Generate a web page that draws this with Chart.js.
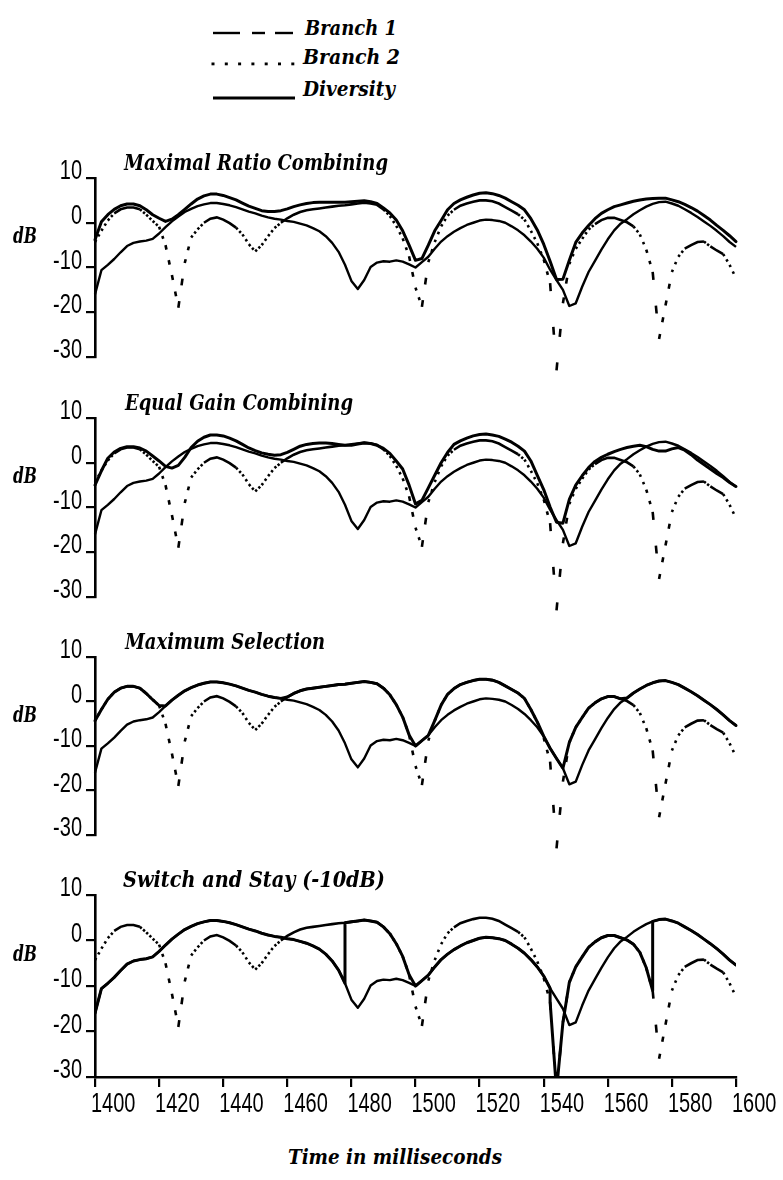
<!DOCTYPE html>
<html>
<head>
<meta charset="utf-8">
<title>Diversity combining – received level</title>
<script src="https://cdn.jsdelivr.net/npm/chart.js@4.4.1/dist/chart.umd.min.js"></script>
<style>
  html, body { margin: 0; padding: 0; background: #fff; }
  #page { position: relative; width: 783px; height: 1180px; overflow: hidden; background: #fff; }
  #page canvas { position: absolute; left: 0; }
  #key { position: absolute; left: 0; top: 0; }
  .lbl { position: absolute; margin: 0; white-space: nowrap; line-height: 1.2; color: #000;
         font-family: "DejaVu Serif", "Liberation Serif", serif; font-style: italic; font-weight: bold;
         transform-origin: 0 0; }
</style>
</head>
<body>
<div id="page">
  <svg id="key" width="783" height="110" viewBox="0 0 783 110">
    <g stroke="#000" fill="none">
      <line x1="213" y1="33" x2="240" y2="33" stroke-width="2.4"/>
      <line x1="252" y1="33" x2="265" y2="33" stroke-width="2.4"/>
      <line x1="275" y1="33" x2="293" y2="33" stroke-width="2.4"/>
      <line x1="213" y1="98" x2="295" y2="98" stroke-width="2.8"/>
    </g>
    <g fill="#000">
      <rect x="211.5" y="62.5" width="3" height="2.8"/>
      <rect x="224.8" y="62.5" width="3" height="2.8"/>
      <rect x="238.1" y="62.5" width="3" height="2.8"/>
      <rect x="251.4" y="62.5" width="3" height="2.8"/>
      <rect x="264.7" y="62.5" width="3" height="2.8"/>
      <rect x="278.0" y="62.5" width="3" height="2.8"/>
      <rect x="291.3" y="62.5" width="3" height="2.8"/>
    </g>
  </svg>
</div>
<script>
// ---- sample times (ms) and received levels (dB) ----
const timeMs = [
  1400,1402,1404,1406,1408,1410,1412,1414,1416,1418,
  1420,1422,1424,1426,1428,1430,1432,1434,1436,1438,
  1440,1442,1444,1446,1448,1450,1452,1454,1456,1458,
  1460,1462,1464,1466,1468,1470,1472,1474,1476,1478,
  1480,1482,1484,1486,1488,1490,1492,1494,1496,1498,
  1500,1502,1504,1506,1508,1510,1512,1514,1516,1518,
  1520,1522,1524,1526,1528,1530,1532,1534,1536,1538,
  1540,1542,1544,1546,1548,1550,1552,1554,1556,1558,
  1560,1562,1564,1566,1568,1570,1572,1574,1576,1578,
  1580,1582,1584,1586,1588,1590,1592,1594,1596,1598,
  1600
];

const branch1Db = [
  -16.0,-10.6,-9.4,-8.1,-6.6,-5.2,-4.5,-4.2,-4.0,-3.6,
  -2.4,-1.0,0.3,1.4,2.4,3.1,3.7,4.1,4.4,4.4,
  4.2,3.9,3.5,3.0,2.5,2.1,1.6,1.2,0.9,0.7,
  0.4,0.2,-0.2,-0.6,-1.2,-1.9,-3.0,-4.5,-6.5,-9.4,
  -13.0,-14.8,-12.8,-9.9,-8.9,-8.6,-8.7,-8.4,-8.7,-9.3,
  -10.0,-8.8,-7.6,-5.8,-4.2,-3.0,-2.0,-1.2,-0.5,0.0,
  0.5,0.7,0.6,0.4,0.0,-0.8,-1.7,-2.8,-4.2,-5.8,
  -7.8,-10.5,-12.8,-15.0,-18.6,-18.0,-14.3,-11.0,-8.5,-6.0,
  -3.7,-1.7,-0.2,0.8,1.9,2.8,3.6,4.2,4.6,4.7,
  4.3,3.8,3.0,2.2,1.3,0.3,-0.7,-1.8,-3.0,-4.3,
  -5.4
];

const branch2Db = [
  -4.3,-1.8,0.5,2.1,3.0,3.4,3.4,3.0,1.8,0.4,
  -0.9,-5.0,-11.7,-19.0,-9.0,-3.3,-1.5,0.0,0.9,1.2,
  0.7,-0.1,-1.1,-2.6,-4.8,-6.4,-5.0,-3.0,-1.2,0.0,
  1.0,1.8,2.4,2.8,3.0,3.2,3.4,3.6,3.8,3.9,
  4.1,4.3,4.5,4.3,4.0,3.0,1.5,-0.7,-3.5,-7.5,
  -14.5,-18.8,-8.8,-4.3,-0.8,1.6,2.9,3.8,4.3,4.7,
  5.0,5.0,4.8,4.3,3.5,2.7,1.9,0.7,-1.8,-4.6,
  -8.2,-13.5,-33.0,-18.0,-9.2,-5.8,-3.6,-1.5,-0.3,0.6,
  1.1,1.1,0.6,0.1,-0.8,-2.6,-6.0,-11.0,-26.0,-18.5,
  -11.0,-7.6,-5.8,-5.0,-4.3,-4.2,-5.3,-6.2,-7.0,-9.4,
  -12.4
];

// combined output, maximal ratio combining
const mrcDb = [
  -3.8,0.2,1.8,3.0,3.8,4.2,4.2,3.8,2.9,1.8,
  1.0,0.3,0.8,1.8,3.0,4.2,5.3,6.0,6.4,6.4,
  6.1,5.6,5.1,4.4,3.7,3.2,2.7,2.5,2.5,2.7,
  3.1,3.6,4.0,4.3,4.5,4.6,4.6,4.6,4.6,4.6,
  4.7,4.8,4.9,4.7,4.3,3.3,2.2,0.6,-1.8,-5.0,
  -8.4,-8.0,-5.0,-1.8,0.5,2.9,4.3,5.1,5.7,6.2,
  6.6,6.7,6.5,6.1,5.5,4.7,3.9,2.9,0.9,-1.6,
  -4.8,-8.6,-12.7,-12.6,-8.4,-4.4,-2.3,-0.6,0.9,2.1,
  2.9,3.6,4.0,4.4,4.8,5.1,5.3,5.4,5.5,5.5,
  5.1,4.7,4.1,3.4,2.6,1.6,0.6,-0.6,-1.7,-2.9,
  -4.2
];

// combined output, equal gain combining
const egcDb = [
  -5.0,-1.8,1.0,2.4,3.2,3.6,3.6,3.3,2.6,1.5,
  0.4,-0.8,-1.2,-0.6,1.2,3.4,4.8,5.7,6.2,6.2,
  6.0,5.5,4.9,4.1,3.3,2.7,2.2,1.9,1.7,1.8,
  2.3,3.0,3.7,4.1,4.3,4.4,4.4,4.3,4.1,3.9,
  3.9,4.2,4.4,4.3,3.9,3.2,2.1,0.4,-1.4,-5.0,
  -9.2,-8.4,-5.6,-2.8,0.0,2.3,4.1,4.9,5.5,6.0,
  6.3,6.4,6.2,5.9,5.3,4.6,3.7,2.6,0.4,-2.8,
  -6.0,-9.9,-13.3,-13.5,-8.2,-5.0,-2.9,-1.1,0.3,1.2,
  1.9,2.5,3.0,3.4,3.7,3.9,3.6,3.0,2.6,2.6,
  3.1,3.4,2.8,1.8,0.6,-0.4,-1.4,-2.4,-3.3,-4.4,
  -5.3
];

// combined output, maximum selection
const selectDb = [
  -4.3,-1.8,0.5,2.1,3.0,3.4,3.4,3.0,1.8,0.4,
  -0.9,-1.0,0.3,1.4,2.4,3.1,3.7,4.1,4.4,4.4,
  4.2,3.9,3.5,3.0,2.5,2.1,1.6,1.2,0.9,0.7,
  1.0,1.8,2.4,2.8,3.0,3.2,3.4,3.6,3.8,3.9,
  4.1,4.3,4.5,4.3,4.0,3.0,1.5,-0.7,-3.5,-7.5,
  -10.0,-8.8,-7.6,-4.3,-0.8,1.6,2.9,3.8,4.3,4.7,
  5.0,5.0,4.8,4.3,3.5,2.7,1.9,0.7,-1.8,-4.6,
  -7.8,-10.5,-12.8,-15.0,-9.2,-5.8,-3.6,-1.5,-0.3,0.6,
  1.1,1.1,0.6,0.8,1.9,2.8,3.6,4.2,4.6,4.7,
  4.3,3.8,3.0,2.2,1.3,0.3,-0.7,-1.8,-3.0,-4.3,
  -5.4
];

// combined output, switch and stay with a -10 dB threshold (switch instants repeat a time)
const switchTimeMs = [
  1400,1402,1404,1406,1408,1410,1412,1414,1416,1418,
  1420,1422,1424,1426,1428,1430,1432,1434,1436,1438,
  1440,1442,1444,1446,1448,1450,1452,1454,1456,1458,
  1460,1462,1464,1466,1468,1470,1472,1474,1476,1478,
  1478,
  1480,1482,1484,1486,1488,1490,1492,1494,1496,1498,
  1500,1502,1504,1506,1508,1510,1512,1514,1516,1518,
  1520,1522,1524,1526,1528,1530,1532,1534,1536,1538,
  1540,1542,
  1542,
  1544,1546,1548,1550,1552,1554,1556,1558,1560,1562,
  1564,1566,1568,1570,1572,1574,
  1574,
  1576,1578,1580,1582,1584,1586,1588,1590,1592,1594,
  1596,1598,1600
];
const switchDb = [
  -16.0,-10.6,-9.4,-8.1,-6.6,-5.2,-4.5,-4.2,-4.0,-3.6,
  -2.4,-1.0,0.3,1.4,2.4,3.1,3.7,4.1,4.4,4.4,
  4.2,3.9,3.5,3.0,2.5,2.1,1.6,1.2,0.9,0.7,
  0.4,0.2,-0.2,-0.6,-1.2,-1.9,-3.0,-4.5,-6.5,-9.4,
  3.9,
  4.1,4.3,4.5,4.3,4.0,3.0,1.5,-0.7,-3.5,-7.5,
  -10.0,-8.8,-7.6,-5.8,-4.2,-3.0,-2.0,-1.2,-0.5,0.0,
  0.5,0.7,0.6,0.4,0.0,-0.8,-1.7,-2.8,-4.2,-5.8,
  -7.8,-10.5,
  -13.5,
  -33.0,-18.0,-9.2,-5.8,-3.6,-1.5,-0.3,0.6,1.1,1.1,
  0.6,0.1,-0.8,-2.6,-6.0,-11.0,
  4.2,
  4.6,4.7,4.3,3.8,3.0,2.2,1.3,0.3,-0.7,-1.8,
  -3.0,-4.3,-5.4
];

const timeTicks = [1400,1420,1440,1460,1480,1500,1520,1540,1560,1580,1600];
const dbTicks = [-30,-20,-10,0,10];

const panelTitles = ['Maximal Ratio Combining', 'Equal Gain Combining', 'Maximum Selection', 'Switch and Stay (-10dB)'];
const seriesNames = ['Branch 1', 'Branch 2', 'Diversity'];
const axisTitles = { y: 'dB', x: 'Time in milliseconds' };

// ---- layout (pixels) ----
const PAGE_W = 783;
const PLOT_LEFT = 95, PLOT_RIGHT = 736;
const panels = [
  { top: 178, bottom: 357, time: timeMs,       db: mrcDb,    clip: false, showTime: false },
  { top: 418, bottom: 597, time: timeMs,       db: egcDb,    clip: false, showTime: false },
  { top: 657, bottom: 835, time: timeMs,       db: selectDb, clip: false, showTime: false },
  { top: 895, bottom: 1077, time: switchTimeMs, db: switchDb, clip: undefined, showTime: true }
];
// narrow plotter-style numerals: a regular sans face squeezed horizontally
const tickStyle = { family: "'Liberation Sans', Arial, sans-serif", size: 27, squeeze: 0.74 };

const page = document.getElementById('page');

const toPoints = (t, v) => t.map((x, i) => ({ x, y: v[i] }));

// the plotter's dotted pen: gaps open up where the trace moves steeply
function plotterDots(ctx) {
  const p0 = ctx.p0, p1 = ctx.p1;
  const stepMs = Math.abs(p1.parsed.x - p0.parsed.x) || 1;
  const period = Math.hypot(p1.x - p0.x, p1.y - p0.y) / stepMs;
  const on = Math.min(8, Math.max(2.4, period * 0.3));
  const off = period - on;
  return off < 1.6 ? [] : [on, off];
}

// tick numerals drawn through the chart's own scales
const squeezedTicks = {
  id: 'squeezedTicks',
  afterDraw(chart, args, opts) {
    const ctx = chart.ctx;
    ctx.save();
    ctx.fillStyle = '#000';
    ctx.font = tickStyle.size + 'px ' + tickStyle.family;
    ctx.textBaseline = 'alphabetic';
    const ys = chart.scales.y;
    ctx.textAlign = 'right';
    dbTicks.forEach(v => {
      const py = ys.getPixelForValue(v);
      ctx.save();
      ctx.translate(ys.right - 13, py + 1);
      ctx.scale(tickStyle.squeeze, 1);
      ctx.fillText(String(v), 0, 0);
      ctx.restore();
    });
    if (opts.showTime) {
      const xs = chart.scales.x;
      ctx.textAlign = 'left';
      timeTicks.forEach(v => {
        const px = xs.getPixelForValue(v);
        ctx.save();
        ctx.translate(px - 4, xs.top + 35);
        ctx.scale(tickStyle.squeeze, 1);
        ctx.fillText(String(v), 0, 0);
        ctx.restore();
      });
    }
    ctx.restore();
  }
};

function buildPanel(p) {
  const padTop = 26;
  const padBottom = p.showTime ? 4 : 30;
  const axisH = p.showTime ? 42 : 0;
  const canvas = document.createElement('canvas');
  canvas.width = PAGE_W;
  canvas.height = padTop + (p.bottom - p.top) + axisH + padBottom;
  canvas.style.top = (p.top - padTop) + 'px';
  page.appendChild(canvas);

  const clipOpt = p.clip === false ? { clip: false } : {};
  new Chart(canvas, {
    type: 'line',
    plugins: [squeezedTicks],
    data: {
      datasets: [
        Object.assign({ label: seriesNames[2], data: toPoints(p.time, p.db),
          borderColor: '#000', borderWidth: 3.0, borderJoinStyle: 'round', borderCapStyle: 'round' }, clipOpt),
        Object.assign({ label: seriesNames[0], data: toPoints(timeMs, branch1Db),
          borderColor: '#000', borderWidth: 2.4, borderJoinStyle: 'round' }, clipOpt),
        Object.assign({ label: seriesNames[1], data: toPoints(timeMs, branch2Db),
          borderColor: '#000', borderWidth: 2.6, borderCapStyle: 'butt',
          segment: { borderDash: plotterDots } }, clipOpt)
      ]
    },
    options: {
      responsive: false,
      animation: false,
      events: [],
      layout: { padding: { left: 0, right: PAGE_W - PLOT_RIGHT, top: padTop, bottom: padBottom } },
      elements: { point: { radius: 0 }, line: { tension: 0, fill: false } },
      plugins: {
        legend: { display: false }, tooltip: { enabled: false }, title: { display: false },
        squeezedTicks: { showTime: p.showTime }
      },
      scales: {
        x: {
          type: 'linear', min: timeTicks[0], max: timeTicks[timeTicks.length - 1],
          display: p.showTime,
          afterBuildTicks: s => { s.ticks = timeTicks.map(v => ({ value: v })); },
          afterFit: s => { s.height = axisH; s.paddingLeft = 0; s.paddingRight = 0; },
          ticks: { display: false },
          grid: { drawOnChartArea: false, drawTicks: true, tickLength: 10, color: '#000', lineWidth: 2.2 },
          border: { display: true, color: '#000', width: 2.6 }
        },
        y: {
          type: 'linear', min: dbTicks[0], max: dbTicks[dbTicks.length - 1],
          afterBuildTicks: s => { s.ticks = dbTicks.map(v => ({ value: v })); },
          afterFit: s => { s.width = PLOT_LEFT; s.paddingTop = 0; s.paddingBottom = 0; },
          ticks: { display: false },
          grid: { drawOnChartArea: false, drawTicks: true, tickLength: 9, color: '#000', lineWidth: 2.2 },
          border: { display: true, color: '#000', width: 2.6 }
        }
      }
    }
  });
}

panels.forEach(buildPanel);

// ---- text placed by baseline and stretched to its run length ----
function placeText(txt, left, baseline, width, size) {
  const el = document.createElement('div');
  el.className = 'lbl';
  el.style.fontSize = size + 'px';
  el.appendChild(document.createTextNode(txt));
  const mark = document.createElement('span');
  mark.style.cssText = 'display:inline-block;width:0;height:0;vertical-align:baseline;';
  el.appendChild(mark);
  el.style.left = left + 'px';
  el.style.top = '0px';
  page.appendChild(el);
  const base = mark.offsetTop;
  el.style.top = (baseline - base) + 'px';
  const w = el.getBoundingClientRect().width;
  if (w > 0) el.style.transform = 'scaleX(' + (width / w).toFixed(4) + ')';
}

// key
placeText(seriesNames[0], 305, 35, 92, 20);
placeText(seriesNames[1], 303, 64, 97, 20);
placeText(seriesNames[2], 303, 96, 92, 20);

// panel headings and unit labels
const headingPos = [
  { left: 124, width: 264 },
  { left: 125, width: 228 },
  { left: 125, width: 200 },
  { left: 123, width: 262 }
];
panels.forEach((p, i) => {
  placeText(panelTitles[i], headingPos[i].left, p.top - 8, headingPos[i].width, 22);
  const zeroY = p.top + (p.bottom - p.top) * 10 / 40;
  placeText(axisTitles.y, 13, zeroY + 20, 24, 22);
});

// time axis title
placeText(axisTitles.x, 288, 1164, 214, 21);
</script>
</body>
</html>
